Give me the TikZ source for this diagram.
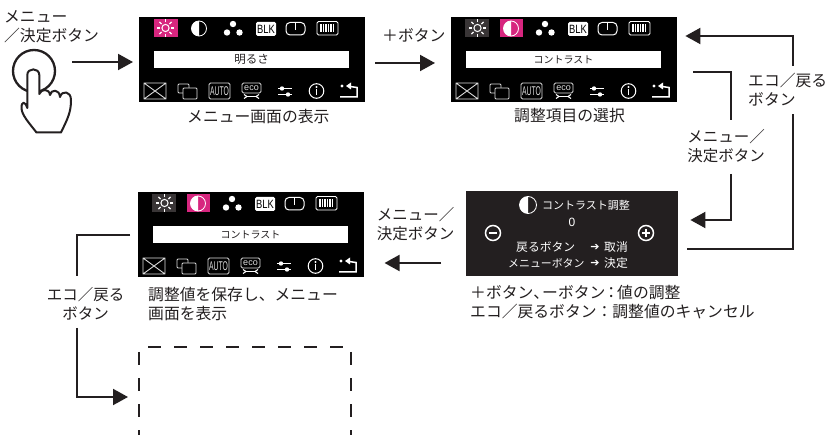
\documentclass[tikz,border=0pt]{standalone}
\usepackage{fontspec}
\usetikzlibrary{arrows.meta}
\setmainfont{Noto Sans CJK JP}
\newfontfamily\dejavu{DejaVu Sans}
\newfontfamily\latinf{Liberation Sans}
\definecolor{pinkhl}{HTML}{D7267F}
\definecolor{inkc}{HTML}{231F20}
\definecolor{dimw}{HTML}{DDDDDD}
\tikzset{
  every node/.style={inner sep=0pt,text=inkc},
  lab/.style={font=\fontsize{15.8}{19}\selectfont,anchor=west,align=left},
  labc/.style={font=\fontsize{15.5}{19}\selectfont,align=center},
  scrbox/.style={fill=black,anchor=north west,minimum width=226pt,minimum height=85pt},
  scrbox3/.style={fill=inkc,anchor=north west,minimum width=212pt,minimum height=85pt},
  wire/.style={draw=inkc,line width=2pt,line join=miter},
  arr/.style={wire,-{Triangle[length=15pt,width=16pt]}},
  ico/.style={draw=dimw,line width=.9pt},
  dashb/.style={draw=inkc,line width=2pt,dash pattern=on 13pt off 13pt},
  small/.style={text=white,font=\fontsize{10}{12}\selectfont},
  barlab/.style={text=inkc,font=\fontsize{10}{12}\selectfont}
}
\newcommand{\halfdisc}[3]{% cx cy r
  \fill[white] (#1,#2) ++(0pt,#3pt) arc[start angle=90,end angle=270,radius=#3pt] -- cycle;
  \draw[white,line width=.8pt] (#1,#2) circle[radius=#3pt];}
\newcommand{\menuscreen}[5]{% name x y sel label
  \node[scrbox] (#1) at (#2,#3) {};
  \begin{scope}[shift={(#2,#3)}]
    \ifnum#4=1 \fill[pinkhl] (15,2) rectangle (39,20);
    \else \fill[inkc!90!white] (14,2) rectangle (38,20); \fill[pinkhl] (49,2) rectangle (72,20); \fi
    % sun
    \draw[white,line width=1pt] (26.5,11) circle[radius=3.6pt];
    \foreach \a in {0,45,...,315} {\draw[white,line width=1.2pt] (26.5,11) ++(\a:5.6pt) -- ++(\a:3pt);}
    % contrast
    \halfdisc{60}{11.5}{7.5}
    % dots
    \fill[white] (94,7) circle[radius=3.2pt] (88,15.5) circle[radius=3.2pt] (100.5,15.5) circle[radius=3.2pt];
    % BLK
    \fill[white,rounded corners=1.5pt] (117,5) rectangle (137,19);
    \node[text=black,font=\latinf\fontsize{12}{12}\selectfont] at (127,12) {\scalebox{.78}[1]{BLK}};
    % monitor
    \draw[white,line width=1pt,rounded corners=4pt] (147,5.5) rectangle (166,18);
    \draw[white,line width=.9pt] (156.5,5.5) -- (156.5,13.5);
    % bars
    \draw[white,line width=.9pt,rounded corners=1.5pt] (178,4.5) rectangle (199,18);
    \foreach \b in {182,184.5,...,195} {\draw[white,line width=1.3pt] (\b,7) -- (\b,15.5);}
    % label bar
    \fill[white] (15,34) rectangle (210,51);
    \node[barlab] (#1lab) at (112.5,42.5) {#5};
    % envelope
    \draw[ico] (5,66) rectangle (27,82) (5,66) -- (27,82) (5,82) -- (27,66);
    % windows
    \draw[ico,rounded corners=1pt] (39,67) rectangle (50,76);
    \draw[ico,fill=black,rounded corners=1pt] (44,71) rectangle (58,82);
    % AUTO
    \draw[ico,rounded corners=1.5pt] (70,66) rectangle (91,82);
    \node[text=dimw,font=\latinf\fontsize{11}{11}\selectfont] at (80.5,74) {\scalebox{.62}[1.15]{AUTO}};
    % eco
    \draw[ico,rounded corners=1.5pt] (103,66) rectangle (122,76);
    \node[text=dimw,font=\latinf\fontsize{9}{9}\selectfont] at (112.5,70.8) {eco};
    \draw[white,line width=1.3pt] (108,79.5) -- (117,79.5);
    \draw[white,line width=1pt] (105,77.5) -- (108,79.5) -- (105,81.5) (120,77.5) -- (117,79.5) -- (120,81.5);
    % tools
    \draw[white,line width=1.3pt] (139,71.5) -- (153,71.5) (139,77.5) -- (153,77.5);
    \fill[white] (143,71.5) circle[radius=2.2pt] (149,77.5) circle[radius=2.2pt];
    % info
    \draw[white,line width=1pt] (177.5,74) circle[radius=7.3pt];
    \fill[white] (177.5,70) circle[radius=1.1pt];
    \draw[white,line width=1.3pt] (177.5,72.5) -- (177.5,78.5);
    % return
    \fill[white] (203,69) circle[radius=1.6pt];
    \fill[white] (207,69) -- (212,65.5) -- (212,72.5) -- cycle;
    \draw[white,line width=1.5pt] (211,69.5) -- (218,70.5) -- (218,80) -- (201,80);
  \end{scope}
}
\begin{document}
\begin{tikzpicture}[x=1pt,y=-1pt]
\useasboundingbox[fill=white] (0,0) rectangle (827,435);

% button and hand
\node[lab] (menulab) at (4,27) {メニュー\\／決定ボタン};
\node[circle,draw=inkc,line width=2.3pt,minimum size=42pt] (btn) at (34,71) {};
\filldraw[draw=inkc,fill=white,line width=2pt,line join=round]
  (27.3,108) -- (27.3,75) .. controls (27.3,67.5) and (39.3,67.5) .. (39.3,75)
  -- (39.3,94) .. controls (41,89) and (49,88) .. (50,95)
  .. controls (51,89) and (59.5,89) .. (60,97)
  .. controls (62,90) and (71,91) .. (71,100)
  .. controls (71,112) and (68,118) .. (61,132.5)
  -- (36.5,132.5)
  .. controls (30,124) and (21.5,115) .. (21.5,108)
  .. controls (21.5,101) and (25,101) .. (27.3,108) -- cycle;

% screens
\menuscreen{scrA}{139}{17}{1}{\fontsize{11.5}{12}\selectfont 明るさ}
\menuscreen{scrB}{451}{17}{2}{コントラスト}
\menuscreen{scrD}{138}{192}{2}{コントラスト}

% adjust screen
\node[scrbox3] (scrC) at (466,191) {};
\halfdisc{528}{205}{8.5}
\node[small,anchor=west,font=\fontsize{11}{12}\selectfont] (ctitle) at (542,205) {コントラスト調整};
\node[small,font=\latinf\fontsize{12}{12}\selectfont] (cval) at (572,222) {0};
\node[circle,draw=white,line width=1.5pt,minimum size=15pt] (cminus) at (493,233) {};
\draw[white,line width=1.5pt] (489,233) -- (497,233);
\node[circle,draw=white,line width=1.5pt,minimum size=15pt] (cplus) at (646,233) {};
\draw[white,line width=1.5pt] (642,233) -- (650,233) (646,229) -- (646,237);
\node[small,anchor=west,font=\fontsize{11.8}{12}\selectfont] (cback) at (516,247) {戻るボタン};
\node[small,font=\dejavu\fontsize{11}{11}\selectfont] (carr1) at (595,247) {➔};
\node[small,anchor=west,font=\fontsize{11.8}{12}\selectfont] (ccancel) at (604,247) {取消};
\node[small,anchor=west,font=\fontsize{10.9}{12}\selectfont] (cmenu) at (508,263) {メニューボタン};
\node[small,font=\dejavu\fontsize{11}{11}\selectfont] (carr2) at (595,263) {➔};
\node[small,anchor=west,font=\fontsize{11.8}{12}\selectfont] (cok) at (604,263) {決定};

% captions
\node[lab] (capA) at (187,116) {メニュー画面の表示};
\node[lab] (capB) at (514,116) {調整項目の選択};
\node[lab] (plusl) at (382,35) {＋ボタン};
\node[lab] (ecoA) at (748,90) {エコ／戻る\\ボタン};
\node[labc] (menuB) at (726,146) {メニュー／\\決定ボタン};
\node[labc] (menuC) at (415.5,224) {メニュー／\\決定ボタン};
\node[lab] (noteC) at (470,302.5) {＋ボタン\kern0pt、\kern-7pt ーボタン\kern-2pt：\kern-2pt 値の調整\\エコ／戻るボタン：調整値のキャンセル};
\node[lab] (capD) at (148,303.5) {調整値を保存し、メニュー\\画面を表示};
\node[labc] (ecoD) at (85.5,303.5) {エコ／戻る\\ボタン};

% connectors
\coordinate (p1) at (72,62);
\coordinate (p2) at (400,63);
\coordinate (p3) at (700,36);
\coordinate (p4) at (793,66);
\coordinate (p5) at (793,114);
\coordinate (p6) at (793,249);
\coordinate (p7) at (731,72);
\coordinate (p8) at (731,120);
\coordinate (p9) at (731,174);
\coordinate (p10) at (731,220);
\coordinate (p11) at (420,263);
\coordinate (p12) at (77,235);
\coordinate (p13) at (77,276);
\coordinate (p14) at (77,328);
\coordinate (p15) at (77,397);
\draw[arr,shorten >=6pt] (p1) -- (p1 -| scrA.west);
\draw[arr,shorten <=10pt,shorten >=16pt] (scrA.east |- p2) -- (scrB.west |- p2);
\draw[wire,shorten <=9pt] (scrC.east |- p6) -- (p6) -- (p5);
\draw[arr,shorten >=8pt] (p4) -- (p4 |- p3) -- (scrB.east |- p3);
\draw[wire,shorten <=16pt] (scrB.east |- p7) -- (p7) -- (p8);
\draw[arr,shorten >=12pt] (p9) -- (p10) -- (scrC.east |- p10);
\draw[arr,shorten <=25pt,shorten >=8pt] (scrC.west |- p11) -- (menuC.west |- p11);
\draw[wire,shorten <=8pt] (scrD.west |- p12) -- (p12) -- (p13);
\coordinate (dl) at (139,397);
\draw[arr,shorten >=11pt] (p14) -- (p15) -- (dl);

% dashed frame
\coordinate (dbl) at (139,435);
\coordinate (dbr) at (351,435);
\draw[dashb] (148,347) -- (344,347);
\draw[dashb] (139,352) -- (dbl);
\draw[dashb] (351,352) -- (dbr);
\end{tikzpicture}
\end{document}
